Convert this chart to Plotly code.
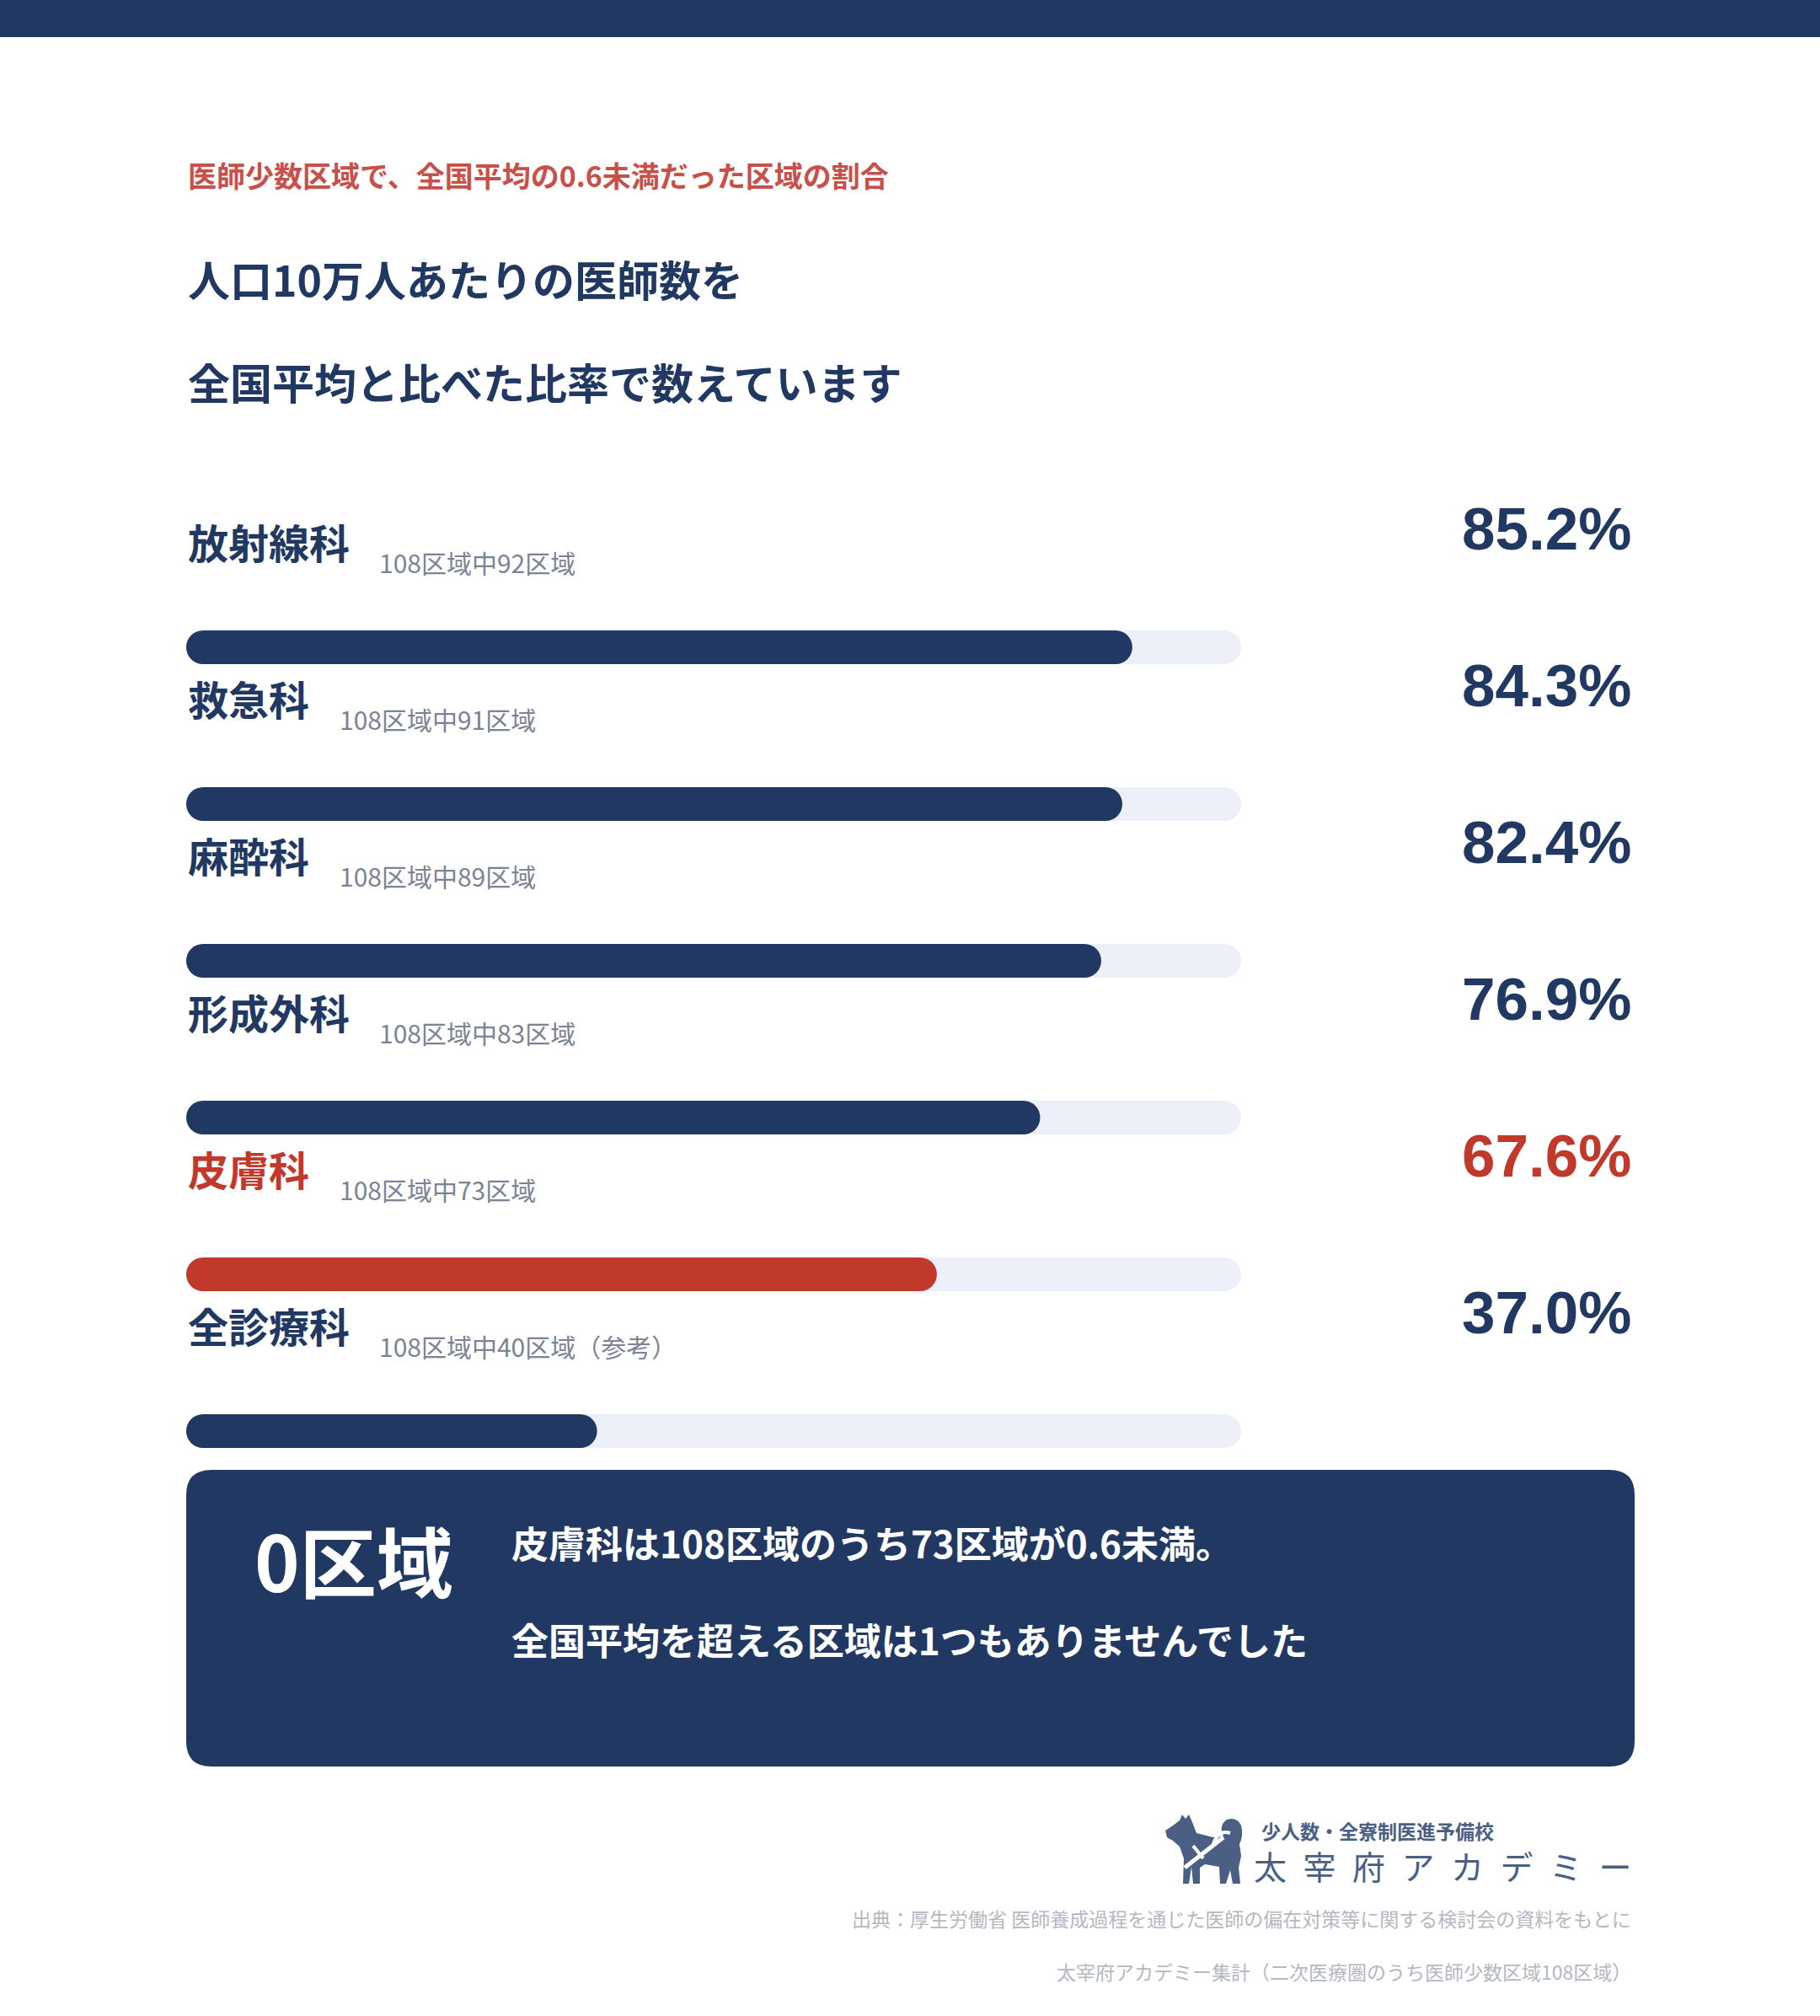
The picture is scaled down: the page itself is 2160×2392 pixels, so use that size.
import plotly.graph_objects as go

# ---------------- data ----------------
categories = ["放射線科", "救急科", "麻酔科", "形成外科", "皮膚科", "全診療科"]
ratios = [85.2, 84.3, 82.4, 76.9, 67.6, 37.0]          # % of regions below 0.6 of national average
region_counts = [92, 91, 89, 83, 73, 40]
TOTAL_REGIONS = 108
notes = ["", "", "", "", "", "（参考）"]
HIGHLIGHT = "皮膚科"
TRACK_MAX = 95

kicker = "医師少数区域で、全国平均の0.6未満だった区域の割合"
title_lines = ["人口10万人あたりの医師数を", "全国平均と比べた比率で数えています"]
box_big = "0区域"
box_lines = ["皮膚科は108区域のうち73区域が0.6未満。", "全国平均を超える区域は1つもありませんでした"]
logo_small = "少人数・全寮制医進予備校"
logo_big = "太宰府アカデミー"
sources = ["出典：厚生労働省 医師養成過程を通じた医師の偏在対策等に関する検討会の資料をもとに",
           "太宰府アカデミー集計（二次医療圏のうち医師少数区域108区域）"]

# ---------------- style ----------------
W, H = 2160, 2392
FONT = "Noto Sans CJK JP"
NUM_FONT = "Liberation Sans, Arial, sans-serif"
NAVY = "#213962"
RED = "#c0392b"
KICKER_RED = "#c8504a"
TRACK = "#edf0f8"
GRAY = "#7b8394"
LIGHT_GRAY = "#b4b8c3"
LOGO = "#4b5f84"

LEFT, TRACK_RIGHT, RIGHT = 221, 1473, 1938
ROW0_CENTER, ROW_STEP, BAR_PX = 768, 186, 40
LABEL_CHAR, SUB_GAP = 47, 39

n = len(categories)
colors = [RED if c == HIGHLIGHT else NAVY for c in categories]
bar_w = BAR_PX / ROW_STEP
radius = BAR_PX / 2

fig = go.Figure()


def rounded_bar(lengths, color):
    # with an explicit base, plotly rounds all four corners -> pill-shaped bar
    fig.add_trace(go.Bar(y=categories, x=lengths, base=[0] * n, orientation="h",
                         marker=dict(color=color, line_width=0, cornerradius=radius),
                         width=bar_w, hoverinfo="skip", showlegend=False))


rounded_bar([TRACK_MAX] * n, TRACK)
rounded_bar(ratios, colors)

top_px = ROW0_CENTER - ROW_STEP / 2
bot_px = top_px + ROW_STEP * n

ann = []


def txt(x, y, text, size, color, weight=400, xanchor="left", yanchor="middle", family=FONT):
    ann.append(dict(x=x, y=y, xref="x2", yref="y2", text=text, showarrow=False,
                    xanchor=xanchor, yanchor=yanchor,
                    font=dict(family=family, size=size, color=color, weight=weight)))


# header texts
txt(LEFT, 207, kicker, 34, KICKER_RED, 700)
txt(LEFT, 330, title_lines[0], 50, NAVY, 700)
txt(LEFT, 452, title_lines[1], 50, NAVY, 700)

# row texts
for i, (c, v, cnt, note, col) in enumerate(zip(categories, ratios, region_counts, notes, colors)):
    ann.append(dict(x=LEFT, y=c, xref="x2", yref="y", text=c, showarrow=False,
                    xanchor="left", yanchor="middle", yshift=126,
                    font=dict(family=FONT, size=48, color=col, weight=700)))
    ann.append(dict(x=LEFT + len(c) * LABEL_CHAR + SUB_GAP, y=c, xref="x2", yref="y",
                    text=f"{TOTAL_REGIONS}区域中{cnt}区域{note}", showarrow=False,
                    xanchor="left", yanchor="middle", yshift=101,
                    font=dict(family=FONT, size=30, color=GRAY, weight=400)))
    ann.append(dict(x=RIGHT, y=c, xref="x2", yref="y", text=f"{v:.1f}%", showarrow=False,
                    xanchor="right", yanchor="middle", yshift=141,
                    font=dict(family=NUM_FONT, size=71, color=col, weight=700)))

# summary box
txt(300, 1849, box_big, 91, "white", 700)
txt(605, 1830, box_lines[0], 44, "white", 700)
txt(605, 1945, box_lines[1], 44, "white", 700)

# logo + sources
txt(1495, 2172, logo_small, 23, LOGO, 700)
txt(1486, 2213, "\u2002".join(logo_big), 39, LOGO, 400)
txt(1938, 2276, sources[0], 23, LIGHT_GRAY, 400, xanchor="right")
txt(1938, 2339, sources[1], 23, LIGHT_GRAY, 400, xanchor="right")


def rounded_rect(x0, y0, x1, y1, r):
    return (f"M {x0 + r} {y0} L {x1 - r} {y0} Q {x1} {y0} {x1} {y0 + r} "
            f"L {x1} {y1 - r} Q {x1} {y1} {x1 - r} {y1} L {x0 + r} {y1} "
            f"Q {x0} {y1} {x0} {y1 - r} L {x0} {y0 + r} Q {x0} {y0} {x0 + r} {y0} Z")


dog = ("M 1383 2172 L 1392 2166 L 1400 2160 L 1403 2153 L 1407 2158 L 1411 2153 L 1415 2162 "
       "L 1420 2175 L 1440 2180 L 1452 2179 Q 1446 2166 1456 2159 Q 1468 2155 1473 2166 "
       "Q 1476 2178 1471 2188 L 1473 2202 L 1470 2216 L 1472 2235 L 1463 2235 L 1460 2219 "
       "L 1455 2235 L 1448 2235 L 1447 2215 L 1430 2212 L 1424 2216 L 1424 2235 L 1416 2235 "
       "L 1414 2215 L 1411 2235 L 1404 2235 L 1405 2205 L 1400 2191 L 1392 2184 L 1385 2180 Z")

shapes = [
    dict(type="rect", xref="x2", yref="y2", x0=0, x1=W, y0=0, y1=44,
         fillcolor=NAVY, line_width=0, layer="below"),
    dict(type="path", xref="x2", yref="y2", path=rounded_rect(LEFT, 1744, 1940, 2096, 30),
         fillcolor=NAVY, line_width=0, layer="below"),
    dict(type="path", xref="x2", yref="y2", path=dog, fillcolor=LOGO, line_width=0),
    dict(type="line", xref="x2", yref="y2", x0=1406, y0=2216, x1=1452, y1=2180,
         line=dict(color="white", width=5)),
    dict(type="line", xref="x2", yref="y2", x0=1416, y0=2190, x1=1428, y1=2205,
         line=dict(color="white", width=4)),
    dict(type="path", xref="x2", yref="y2", path="M 1440 2188 Q 1446 2170 1460 2175",
         line=dict(color="white", width=4)),
]

fig.update_layout(
    width=W, height=H, margin=dict(l=0, r=0, t=0, b=0),
    paper_bgcolor="white", plot_bgcolor="rgba(0,0,0,0)",
    barmode="overlay", showlegend=False,
    xaxis=dict(domain=[LEFT / W, TRACK_RIGHT / W], range=[0, TRACK_MAX], visible=False,
               fixedrange=True),
    yaxis=dict(domain=[1 - bot_px / H, 1 - top_px / H], type="category",
               categoryorder="array", categoryarray=categories,
               range=[n - 0.5, -0.5], visible=False, fixedrange=True),
    xaxis2=dict(domain=[0, 1], range=[0, W], visible=False, anchor="y2", fixedrange=True),
    yaxis2=dict(domain=[0, 1], range=[H, 0], visible=False, anchor="x2", fixedrange=True),
    annotations=ann, shapes=shapes,
)

fig.write_html("out.html", config={"displayModeBar": False},
               post_script="document.body.style.margin='0';document.body.style.overflow='hidden';")
